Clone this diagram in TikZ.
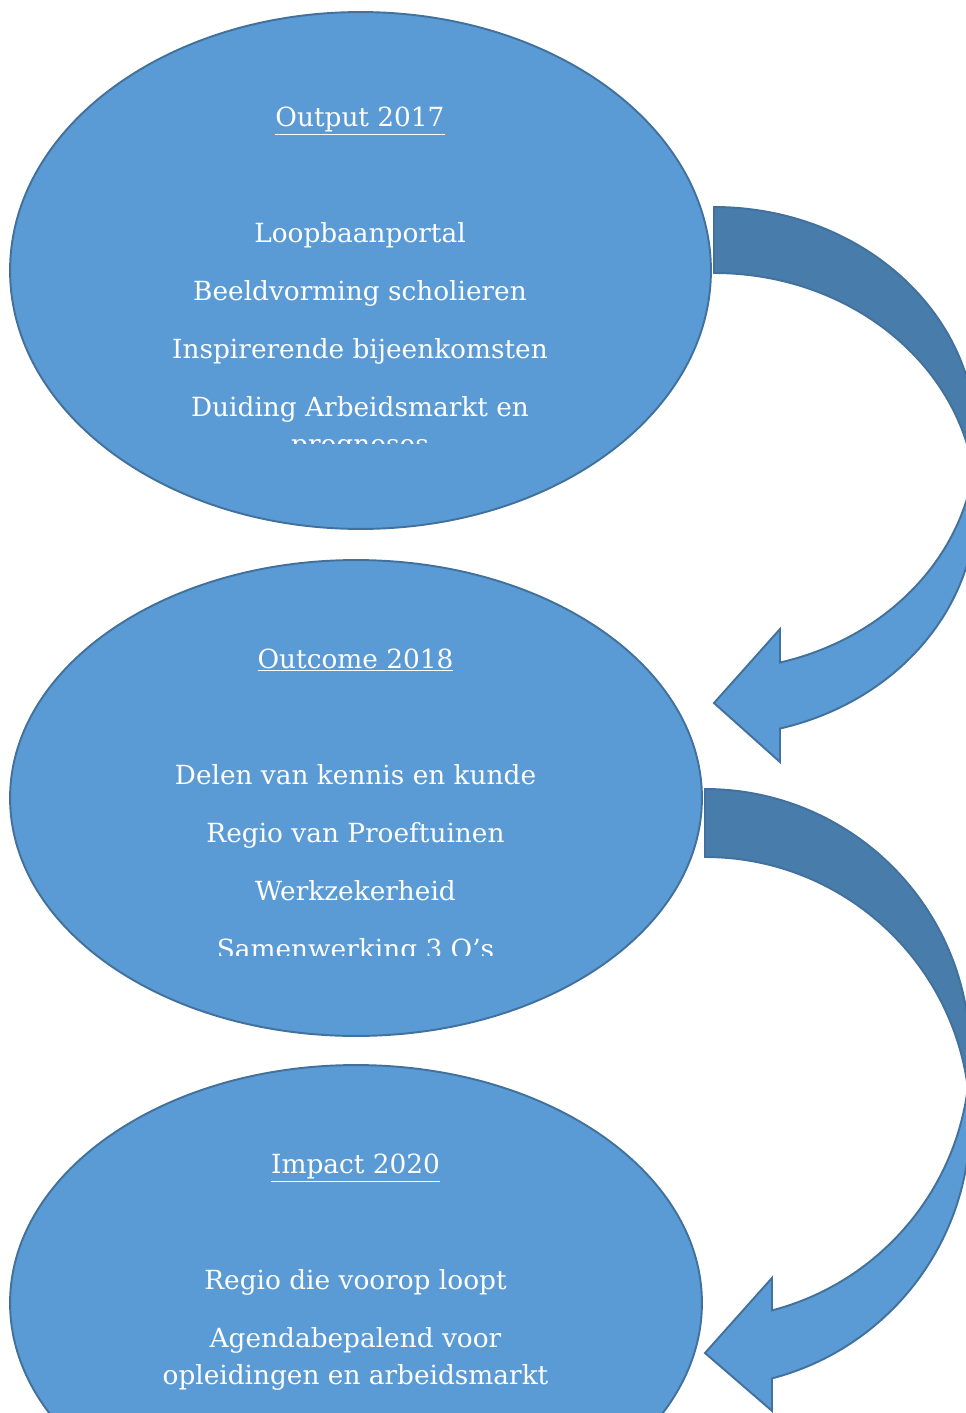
\documentclass[tikz,border=0pt]{standalone}
\usepackage{fontspec}
\setmainfont{DejaVu Serif}
\usetikzlibrary{shapes.geometric}

\definecolor{ovalBlue}{HTML}{5B9BD5}
\definecolor{ovalEdge}{HTML}{41719C}
\definecolor{arrowShade}{HTML}{487CAA}

% bent block arrow: x0, top, thickness, head width, head length, x radius, y radius, tip y
\newcommand{\bentarrow}[8]{%
  \pgfmathsetmacro{\cA}{#2+#7}%
  \pgfmathsetmacro{\cB}{#2+#7+#3}%
  \pgfmathsetmacro{\tA}{acos(#5/#6)}%
  \pgfmathsetmacro{\yIn}{\cA+#7*sin(\tA)}%
  \pgfmathsetmacro{\yOut}{\cB+#7*sin(\tA)}%
  \pgfmathsetmacro{\dH}{(#4-#3)/2}%
  \pgfmathsetmacro{\xH}{#1+#5}%
  \filldraw[arrowFront] (#1+#6,\cA)
    arc[start angle=0,end angle=\tA,x radius=#6,y radius=#7]
    -- (\xH,\yIn-\dH) -- (#1,#8) -- (\xH,\yOut+\dH) -- (\xH,\yOut)
    arc[start angle=\tA,end angle=0,x radius=#6,y radius=#7] -- cycle;
  \filldraw[arrowBack] (#1,#2)
    arc[start angle=-90,end angle=0,x radius=#6,y radius=#7]
    -- (#1+#6,\cB)
    arc[start angle=0,end angle=-90,x radius=#6,y radius=#7] -- cycle;
}

\begin{document}
\begin{tikzpicture}
[x=0.02cm,y=-0.02cm,%
  oval/.style={ellipse,draw=ovalEdge,fill=ovalBlue,line width=1.1pt,inner sep=0pt},%
  ovaltext/.style={text=white,anchor=base,inner sep=0pt,font=\fontsize{15}{22}\selectfont},%
  arrowFront/.style={fill=ovalBlue,draw=ovalEdge,line width=1.1pt},%
  arrowBack/.style={fill=arrowShade,draw=ovalEdge,line width=1.1pt}]
\clip (0,0) rectangle (966,1413);
%% the three ovals
\node[oval,minimum width=14.02cm,minimum height=10.34cm] (output) at (360.5,270.5) {};
\node[oval,minimum width=13.84cm,minimum height=9.52cm] (outcome) at (356,798) {};
\node[oval,minimum width=13.84cm,minimum height=9.52cm] (impact) at (356,1303) {};
%% bent arrows between the ovals
\bentarrow{714}{207}{66}{133}{66}{262}{231.5}{703}
\bentarrow{705}{789}{68}{133}{67}{265}{265}{1353}
%% text of the ovals
\begin{scope}
\clip (0,0) rectangle (966,443);
\node[ovaltext] (out-title) at (360,126) {\underline{Output 2017}};
\foreach \name/\txt/\yb in {
  out-a/Loopbaanportal/242, out-b/Beeldvorming scholieren/300,
  out-c/Inspirerende bijeenkomsten/358, out-d/Duiding Arbeidsmarkt en/416,
  out-e/prognoses/453}
{
  \node[ovaltext] (\name) at (360,\yb) {\txt};
}
\end{scope}
\begin{scope}
\clip (0,0) rectangle (966,955);
\node[ovaltext] (oc-title) at (355.5,668) {\underline{Outcome 2018}};
\foreach \name/\txt/\yb in {
  oc-a/Delen van kennis en kunde/784, oc-b/Regio van Proeftuinen/842,
  oc-c/Werkzekerheid/900, oc-d/Samenwerking 3 O’s/958}
{
  \node[ovaltext] (\name) at (355.5,\yb) {\txt};
}
\end{scope}
\node[ovaltext] (im-title) at (355.5,1173) {\underline{Impact 2020}};
\foreach \name/\txt/\yb in {
  im-a/Regio die voorop loopt/1289, im-b/Agendabepalend voor/1347,
  im-c/opleidingen en arbeidsmarkt/1384}
{
  \node[ovaltext] (\name) at (355.5,\yb) {\txt};
}
\end{tikzpicture}
\end{document}
